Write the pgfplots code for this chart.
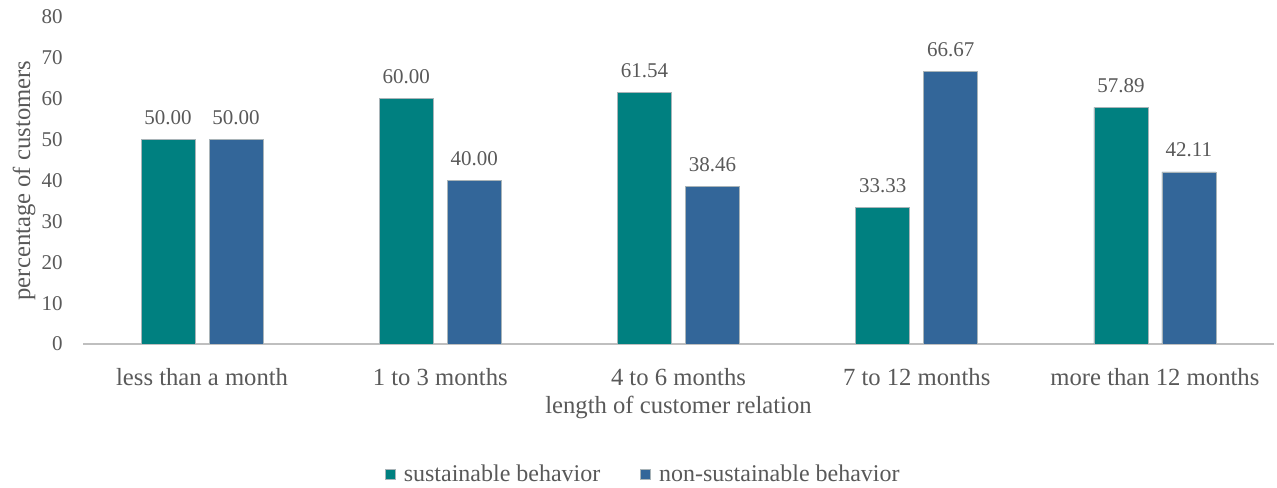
\documentclass[border=0pt]{standalone}
\usepackage{fontspec}
\setmainfont{Liberation Serif}
\usepackage{pgfplots}
\pgfplotsset{compat=1.18}

\definecolor{sust}{HTML}{008080}
\definecolor{nonsust}{HTML}{336699}
\definecolor{txt}{HTML}{595959}
\definecolor{axisgray}{HTML}{BFBFBF}
\definecolor{baredge}{HTML}{A9B4B8}

\begin{document}
\begin{tikzpicture}
\useasboundingbox (0,0) rectangle (957.75pt,366pt);
\begin{axis}[
  at={(62.25pt,108pt)}, anchor=south west,
  scale only axis,
  width=893.25pt, height=245.25pt,
  ybar=10.5pt, bar width=40.5pt,
  xmin=-0.5, xmax=4.5,
  ymin=0, ymax=80,
  ytick={0,10,...,80},
  xtick=data,
  xticklabels={less than a month,1 to 3 months,4 to 6 months,7 to 12 months,more than 12 months},
  axis x line*=bottom,
  axis y line*=left,
  x axis line style={draw=axisgray, line width=1.2pt},
  y axis line style={draw=none},
  major tick style={draw=none},
  /pgf/number format/assume math mode=true,
  yticklabel style={font=\rmfamily\fontsize{15.75pt}{18pt}\selectfont, text=txt, anchor=east, inner sep=0pt, xshift=-15pt},
  xticklabel style={font=\rmfamily\fontsize{18.5pt}{22pt}\selectfont, text=txt, anchor=base, inner sep=0pt, yshift=-26.5pt},
  ylabel={percentage of customers},
  xlabel={length of customer relation},
  label style={font=\rmfamily\fontsize{18.5pt}{22pt}\selectfont, text=txt},
  % the label is turned by 90 degrees, so a shift along its own y moves it left
  ylabel style={at={(axis description cs:0,0.5)}, anchor=center, yshift=44.25pt},
  xlabel style={at={(axis description cs:0.5,0)}, anchor=base, yshift=-52.5pt},
  nodes near coords={\pgfmathprintnumber[fixed,fixed zerofill,precision=2,assume math mode=true]{\pgfplotspointmeta}},
  every node near coord/.append style={font=\rmfamily\fontsize{15.75pt}{18pt}\selectfont, text=txt, anchor=base, inner sep=0pt, yshift=11.25pt},
  legend columns=-1,
  legend style={at={(axis description cs:0.473,-0.3976)}, anchor=center, draw=none, fill=none,
    font=\rmfamily\fontsize{18pt}{21pt}\selectfont, text=txt,
    /tikz/every even column/.append style={column sep=24pt},
    nodes={inner xsep=6pt, inner ysep=0pt}},
  legend image code/.code={\fill[#1] (0pt,-3.75pt) rectangle (7.5pt,3.75pt);},
]
\addplot[fill=sust, draw=baredge, line width=0.5pt] coordinates {(0,50.00) (1,60.00) (2,61.54) (3,33.33) (4,57.89)};
\addplot[fill=nonsust, draw=baredge, line width=0.5pt] coordinates {(0,50.00) (1,40.00) (2,38.46) (3,66.67) (4,42.11)};
\legend{sustainable behavior, non-sustainable behavior}
\end{axis}
\end{tikzpicture}
\end{document}
